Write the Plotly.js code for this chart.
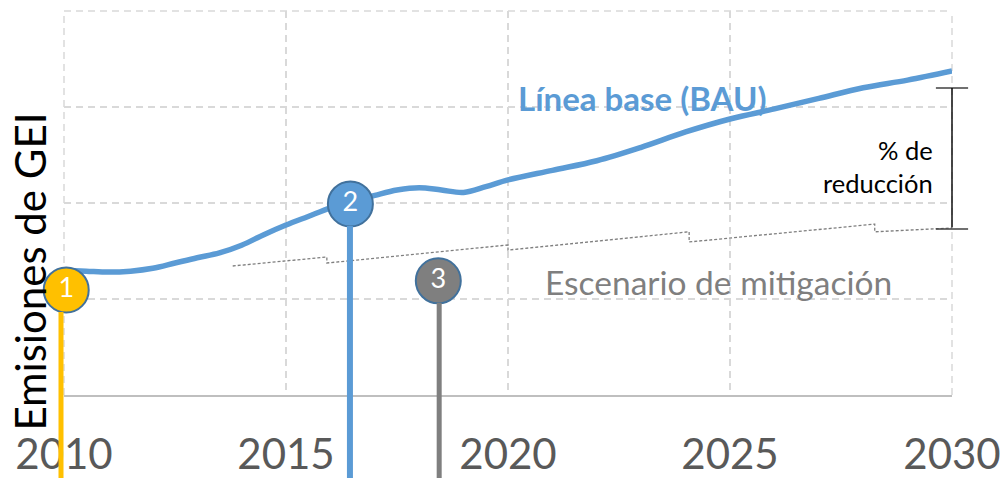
<!DOCTYPE html>
<html>
<head>
<meta charset="utf-8">
<script src="https://cdn.plot.ly/plotly-3.0.1.min.js"></script>
<style>html,body{margin:0;padding:0;background:#fff;}#chart{width:1003px;height:478px;}</style>
</head>
<body>
<div id="chart"></div>
<script>
// Baseline (BAU) emissions curve
var bauYears = [2010,2010.5,2011,2011.5,2012,2012.5,2013,2013.5,2014,2014.5,2015,2015.5,2016,2016.5,2017,2017.5,2018,2018.5,2019,2019.5,2020,2021,2022,2023,2024,2025,2026,2027,2028,2029,2030];
var bauValues = [1.30,1.29,1.28,1.29,1.32,1.375,1.43,1.48,1.56,1.67,1.77,1.86,1.95,2.02,2.08,2.135,2.16,2.135,2.11,2.17,2.24,2.34,2.44,2.58,2.74,2.875,2.98,3.09,3.20,3.28,3.375];

// Mitigation scenario (stepped dashed line)
var mitYears = [2013.8,2015.92,2015.92,2020.0,2020.0,2024.08,2024.08,2028.26,2028.26,2030];
var mitValues = [1.344,1.4375,1.375,1.5625,1.51,1.70,1.594,1.78,1.70,1.74];

// Numbered milestones
var milestoneLabels = ['1','2','3'];
var milestoneYears = [2010.05,2016.45,2018.43];
var milestoneValues = [1.094,1.99,1.19];
var stemYears = [2010,2016.44,2018.45];
var milestoneColors = ['#FFC000','#5B9BD5','#7F7F7F'];
var stemWidths = [5, 6, 5];
var stemShift = [-3, 0, 0];
var stemBottom = -0.95;

// Reduction bracket
var bracketYear = 2030;
var bracketTop = 3.198;
var bracketBottom = 1.729;

// Axis ticks
var tickYears = [2010,2015,2020,2025,2030];
var tickLabels = ['2010','2015','2020','2025','2030'];

var FONT = 'Lato, "Open Sans", sans-serif';
var GRID = '#D9D9D9';
var traces = [];

traces.push({
  x: mitYears, y: mitValues, mode: 'lines', type: 'scatter',
  line: {color: '#7F7F7F', width: 1.3, dash: '3px,2px'}, hoverinfo: 'skip'
});

traces.push({
  x: bauYears, y: bauValues, mode: 'lines', type: 'scatter',
  line: {color: '#5B9BD5', width: 5.5, shape: 'spline', smoothing: 1}, hoverinfo: 'skip'
});

// bracket caps
traces.push({
  x: [bracketYear, bracketYear], y: [bracketTop, bracketBottom], mode: 'markers', type: 'scatter',
  marker: {symbol: 'line-ew', size: 23, color: '#404040', line: {color: '#404040', width: 1.6}},
  cliponaxis: false, hoverinfo: 'skip'
});

traces.push({
  x: milestoneYears, y: milestoneValues, mode: 'markers+text', type: 'scatter',
  text: milestoneLabels, textposition: 'middle center',
  textfont: {family: FONT, size: 27, color: '#FFFFFF'},
  marker: {size: 45, color: milestoneColors, line: {color: '#41719C', width: 2}},
  cliponaxis: false, hoverinfo: 'skip'
});

var annotations = [
  {text: 'Emisiones de GEI', xref: 'paper', yref: 'paper', x: -0.038, y: 0.322,
   xanchor: 'center', yanchor: 'middle', textangle: -90, showarrow: false,
   font: {family: FONT, size: 42, color: '#000000'}},
  {text: '<b>Línea base (BAU)</b>', xref: 'x', yref: 'y', x: 2020.17, y: 3.09,
   xanchor: 'left', yanchor: 'middle', showarrow: false,
   font: {family: FONT, size: 33, color: '#5B9BD5'}},
  {text: 'Escenario de mitigación', xref: 'x', yref: 'y', x: 2020.78, y: 1.18,
   xanchor: 'left', yanchor: 'middle', showarrow: false,
   font: {family: FONT, size: 33.5, color: '#7F7F7F'}},
  {text: '% de<br>reducción', xref: 'x', yref: 'y', x: 2029.62, y: 2.38,
   xanchor: 'right', yanchor: 'middle', align: 'right', showarrow: false,
   font: {family: FONT, size: 25.5, color: '#000000'}},
  // bracket vertical bar
  {text: '', xref: 'x', yref: 'y', x: bracketYear, y: bracketTop,
   axref: 'x', ayref: 'y', ax: bracketYear, ay: bracketBottom,
   showarrow: true, arrowhead: 0, arrowwidth: 1.4, arrowcolor: '#000000', standoff: 0}
];
for (var i = 0; i < milestoneLabels.length; i++) {
  annotations.push({
    text: '', xref: 'x', yref: 'y', x: stemYears[i], y: milestoneValues[i],
    ax: 0, ayref: 'y', ay: stemBottom, xshift: stemShift[i],
    showarrow: true, arrowhead: 0, arrowwidth: stemWidths[i], arrowcolor: milestoneColors[i],
    standoff: 22
  });
}

var edgeLine = {color: GRID, width: 1.5, dash: '7px,5px'};
var shapes = [
  {type: 'line', xref: 'paper', yref: 'paper', x0: 0, x1: 1, y0: 1, y1: 1, line: edgeLine, layer: 'below'},
  {type: 'line', xref: 'paper', yref: 'paper', x0: 0, x1: 0, y0: 0, y1: 1, line: edgeLine, layer: 'below'},
  {type: 'line', xref: 'paper', yref: 'paper', x0: 1, x1: 1, y0: 0, y1: 1, line: edgeLine, layer: 'below'}
];

var layout = {
  width: 1003, height: 478,
  margin: {l: 64, r: 51, t: 11, b: 83, pad: 0},
  paper_bgcolor: '#FFFFFF', plot_bgcolor: '#FFFFFF',
  showlegend: false,
  font: {family: FONT},
  xaxis: {
    range: [2010, 2030], tickvals: tickYears, ticktext: tickLabels,
    showgrid: true, gridcolor: GRID, gridwidth: 1.5, griddash: '7px,5px',
    zeroline: false, showline: true, linecolor: '#BFBFBF', linewidth: 1.5,
    ticks: '', ticklabelstandoff: 22, tickfont: {family: FONT, size: 42, color: '#595959'},
    layer: 'below traces', fixedrange: true
  },
  yaxis: {
    range: [0, 4], dtick: 1, tick0: 0,
    showgrid: true, gridcolor: GRID, gridwidth: 1.5, griddash: '7px,5px',
    zeroline: false, showline: false, showticklabels: false, ticks: '',
    fixedrange: true
  },
  shapes: shapes,
  annotations: annotations
};

Plotly.newPlot('chart', traces, layout, {staticPlot: true, displayModeBar: false});
</script>
</body>
</html>
